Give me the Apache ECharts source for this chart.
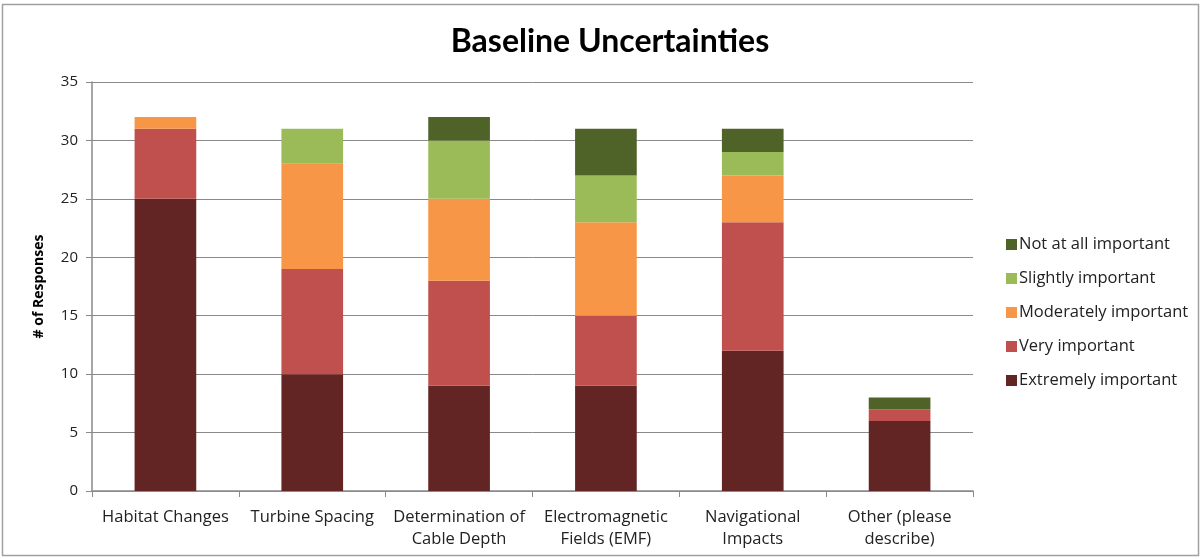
<!DOCTYPE html>
<html>
<head>
<meta charset="utf-8">
<script src="https://cdn.jsdelivr.net/npm/echarts@6/dist/echarts.min.js"></script>
<style>
  html, body { margin: 0; padding: 0; background: #fff; }
  #chart { width: 1202px; height: 559px; }
</style>
</head>
<body>
<div id="chart"></div>
<script>
// Survey topics along the x axis
const categories = [
  'Habitat Changes',
  'Turbine Spacing',
  'Determination of\nCable Depth',
  'Electromagnetic\nFields (EMF)',
  'Navigational\nImpacts',
  'Other (please\ndescribe)'
];

// Number of responses per importance level, stacked bottom to top
const extremelyImportant = [25, 10, 9, 9, 12, 6];
const veryImportant      = [6, 9, 9, 6, 11, 1];
const moderatelyImportant = [1, 9, 7, 8, 4, 0];
const slightlyImportant  = [0, 3, 5, 4, 2, 0];
const notAtAllImportant  = [0, 0, 2, 4, 2, 1];

const yTicks = [0, 5, 10, 15, 20, 25, 30, 35];

const seriesDefs = [
  { name: 'Extremely important', data: extremelyImportant, color: '#632523' },
  { name: 'Very important', data: veryImportant, color: '#C0504D' },
  { name: 'Moderately important', data: moderatelyImportant, color: '#F79646' },
  { name: 'Slightly important', data: slightlyImportant, color: '#9BBB59' },
  { name: 'Not at all important', data: notAtAllImportant, color: '#4F6228' }
];

const font = '"Open Sans", Lato, sans-serif';

const chart = echarts.init(document.getElementById('chart'), null, { renderer: 'canvas' });

chart.setOption({
  backgroundColor: '#ffffff',
  animation: false,
  graphic: [{
    type: 'rect',
    shape: { x: 2.5, y: 4.5, width: 1196, height: 551 },
    style: { fill: 'none', stroke: '#a0a0a0', lineWidth: 1.5 },
    silent: true
  }],
  title: {
    text: 'Baseline Uncertainties',
    left: 605,
    textAlign: 'center',
    top: 21,
    textStyle: { fontFamily: 'Lato, sans-serif', fontWeight: 'bold', fontSize: 32, color: '#000' }
  },
  legend: {
    orient: 'vertical',
    left: 1001,
    top: 231,
    itemWidth: 11,
    itemHeight: 11,
    itemGap: 17,
    icon: 'rect',
    data: seriesDefs.map(s => s.name).reverse(),
    textStyle: { fontFamily: font, fontSize: 16.5, color: '#222', padding: [0, 0, 0, -3] }
  },
  grid: { left: 92, right: 229, top: 82, bottom: 68, containLabel: false },
  xAxis: {
    type: 'category',
    data: categories,
    axisLine: { lineStyle: { color: '#8a8a8a', width: 1.5 } },
    axisTick: { show: true, alignWithLabel: false, length: 6, lineStyle: { color: '#8a8a8a' } },
    axisLabel: {
      fontFamily: font, fontSize: 16.5, color: '#222', margin: 15, lineHeight: 22, interval: 0
    }
  },
  yAxis: {
    type: 'value',
    min: yTicks[0],
    max: yTicks[yTicks.length - 1],
    interval: 5,
    name: '# of Responses',
    nameLocation: 'middle',
    nameGap: 46,
    nameRotate: 90,
    nameTextStyle: { fontFamily: font, fontWeight: 'bold', fontSize: 14, color: '#000' },
    axisLine: { show: true, lineStyle: { color: '#8a8a8a', width: 1.5 } },
    axisTick: { show: true, length: 6, inside: false, lineStyle: { color: '#8a8a8a' } },
    splitLine: { lineStyle: { color: '#8a8a8a', width: 1 } },
    axisLabel: { fontFamily: font, fontSize: 15, color: '#222', margin: 14 }
  },
  series: seriesDefs.map(s => ({
    name: s.name,
    type: 'bar',
    stack: 'total',
    data: s.data,
    barWidth: '42%',
    itemStyle: { color: s.color },
    emphasis: { disabled: true }
  }))
});
</script>
</body>
</html>
